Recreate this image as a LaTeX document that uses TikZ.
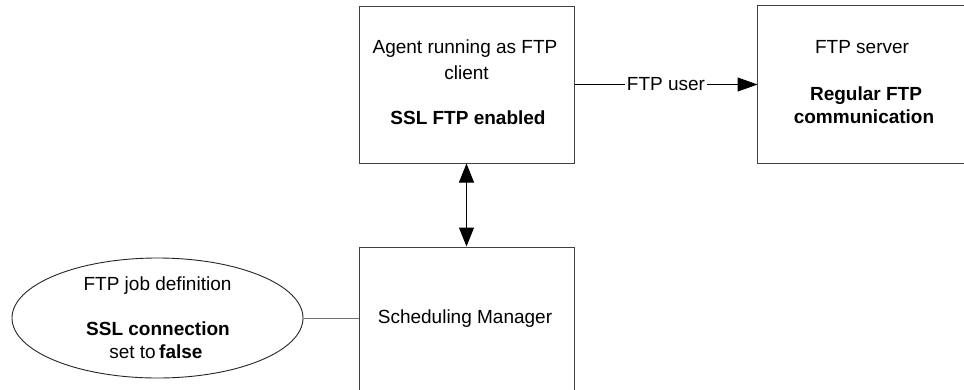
\documentclass[tikz,border=0pt]{standalone}
\usepackage{fontspec}
\setmainfont{Liberation Sans}
\usetikzlibrary{arrows.meta,shapes.geometric}
\begin{document}
\begin{tikzpicture}[x=1pt,y=-1pt,
  every node/.style={font=\fontsize{19}{22}\selectfont, inner sep=0pt},
  boxline/.style={draw=black!75, line width=1pt},
  box/.style={boxline, minimum width=215pt, minimum height=157pt},
  oval/.style={ellipse, draw=black!85, line width=0.9pt, minimum width=291pt, minimum height=120pt},
  txt/.style={anchor=base},
  bold/.style={anchor=base, font=\fontsize{19}{22}\selectfont\bfseries},
  link/.style={line width=1pt, black},
  tip/.style={-{Triangle[length=20pt,width=14pt]}}]
\useasboundingbox (0,0) rectangle (964,389);
\fill[white] (0,0) rectangle (964,389);

% boxes and the oval
\node[box] (agent) at (466.5,84.5) {};
\node[box, draw=none, minimum width=240pt] (srv) at (878,84) {};
\draw[boxline] (srv.north east) -- (srv.north west) -- (srv.south west) -- (srv.south east);
\node[box] (sm) at (466.5,325.5) {};
\node[oval] (job) at (157.5,318) {};

% texts inside the shapes
\node[txt] (a1) at (465,53) {Agent running as FTP};
\node[txt] (a2) at (466.5,79) {client};
\node[bold] (a3) at (468,124) {SSL FTP enabled};

\node[txt] (s1) at (862,53) {FTP server};
\node[bold] (s2) at (866,100) {Regular FTP};
\node[bold] (s3) at (864,123) {communication};

\node[txt] (m1) at (465,323) {Scheduling Manager};

\node[txt] (j1) at (157.5,290) {FTP job definition};
\node[bold] (j2) at (158,335) {SSL connection};
\node[txt, anchor=base east] (j3) at (156,358) {set to};
\node[bold, anchor=base west] (j4) at ([xshift=3pt]j3.base east) {false};

% connectors
\draw[link, tip] (agent.east) -- node[fill=white, inner xsep=2pt, inner ysep=3pt] (user) {FTP user} (agent.east -| srv.west);
\draw[link, {Triangle[length=19pt,width=15pt]}-{Triangle[length=19pt,width=15pt]}] (agent.south) -- (sm.north);
\draw[line width=1pt, black!55] (job.east) -- (job.east -| sm.west);
\end{tikzpicture}
\end{document}
